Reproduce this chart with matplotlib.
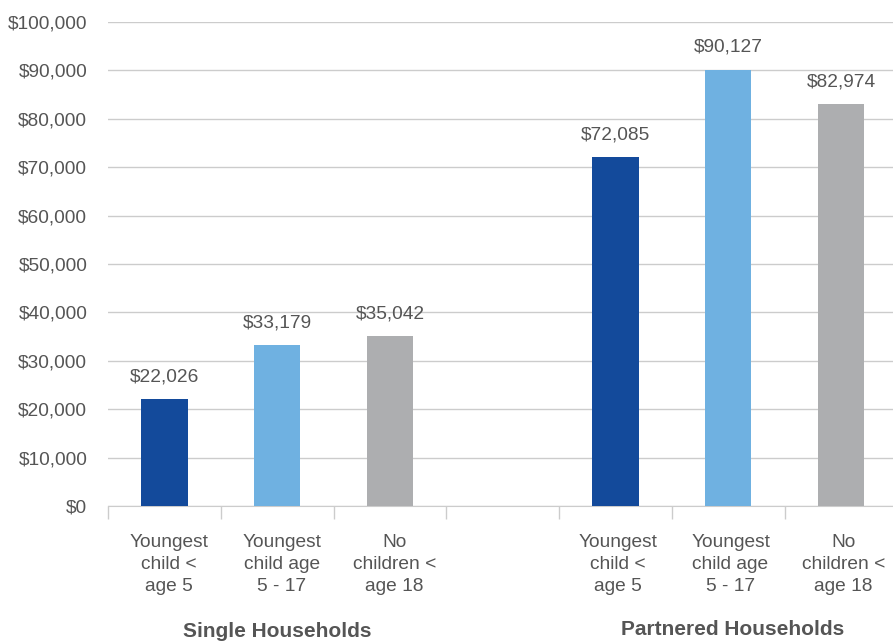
import matplotlib.pyplot as plt
import numpy as np

plt.rcParams['font.family'] = ['Liberation Sans', 'DejaVu Sans']

# median household income by household type
categories = ['Youngest\nchild <\nage 5', 'Youngest\nchild age\n5 - 17', 'No\nchildren <\nage 18']
groups = ['Single Households', 'Partnered Households']
single = [22026, 33179, 35042]
partnered = [72085, 90127, 82974]
colors = ['#134a9b', '#6fb1e1', '#adaeb0']

TEXT = '#555555'
GRID = '#cccccc'
FS = 13.8

fig = plt.figure(figsize=(8.93, 6.42), dpi=100)
ax = fig.add_axes([0.121, 0.2118, 0.884, 0.7539])

# three bars per group, one blank slot between the groups
x_single = np.arange(3)
x_partnered = np.arange(3) + 4
xs = np.concatenate([x_single, x_partnered])
vals = single + partnered
bar_colors = colors + colors

bars = ax.bar(xs, vals, width=0.41, color=bar_colors, zorder=3)
for b, v in zip(bars, vals):
    ax.annotate(f'${v:,}', (b.get_x() + b.get_width() / 2, v),
                xytext=(0, 10), textcoords='offset points',
                ha='center', va='bottom', fontsize=FS, color=TEXT)

ax.set_xlim(-0.5, 6.5)
ax.set_ylim(0, 100000)
ax.set_yticks(np.arange(0, 100001, 10000))
ax.set_yticklabels([f'${t:,}' for t in range(0, 100001, 10000)])
ax.yaxis.grid(True, color=GRID, linewidth=1, zorder=0)
ax.tick_params(axis='y', length=0, pad=15, labelsize=FS, labelcolor=TEXT)

# slot separators along the baseline
ax.set_xticks(np.arange(-0.5, 6.5, 1.0))
ax.set_xticklabels([])
ax.tick_params(axis='x', length=9, width=1, color=GRID, direction='out')

for s in ['top', 'right', 'left']:
    ax.spines[s].set_visible(False)
ax.spines['bottom'].set_color(GRID)

# category labels under each bar
for i, x in enumerate(xs):
    shift = 0.04 if x < 3 else 0.02
    ax.text(x + shift, -5700, categories[i % 3], ha='center', va='top',
            fontsize=FS, color=TEXT, linespacing=1.39)

# group labels
ax.text(1.0, -26000, groups[0], ha='center', va='center', fontsize=15,
        fontweight='bold', color=TEXT)
ax.text(5.04, -25600, groups[1], ha='center', va='center', fontsize=15,
        fontweight='bold', color=TEXT)

fig.savefig('out.png', dpi=100)
